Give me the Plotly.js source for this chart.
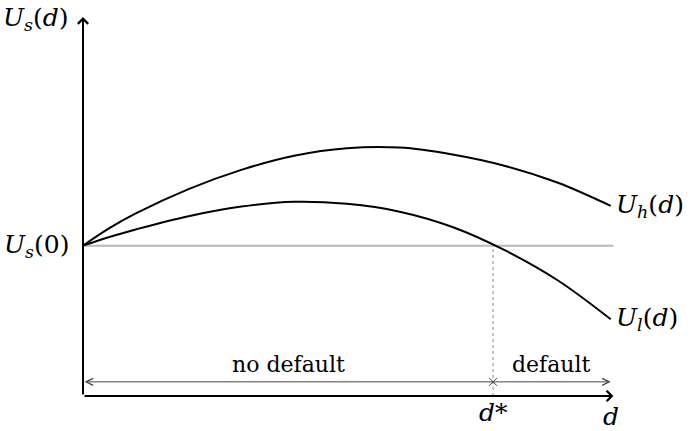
<!DOCTYPE html>
<html>
<head>
<meta charset="utf-8">
<script src="https://cdn.plot.ly/plotly-3.0.1.min.js"></script>
<style>
  html, body { margin: 0; padding: 0; background: #fff; }
  #chart { width: 691px; height: 431px; }
</style>
</head>
<body>
<div id="chart"></div>
<script>
// values (d from 0 to 10, U_s(0) = 5)
const d = [0, 0.5, 1, 2, 3, 4, 5, 6, 7, 8, 9, 10];
const uHigh = [5.0, 5.58, 6.07, 6.88, 7.52, 7.99, 8.24, 8.26, 8.03, 7.65, 7.09, 6.32];
const uLow = [5.0, 5.29, 5.54, 5.98, 6.30, 6.46, 6.39, 6.13, 5.62, 4.84, 3.84, 2.55];
const us0 = 5;
const dStar = 7.77;
const dMax = 10;
const bracketY = 0.47;

const serif = 'DejaVu Serif';
const black = '#000';

// === curves ===
const traces = [
  {
    x: d, y: uHigh, type: 'scatter', mode: 'lines',
    line: { color: black, width: 2, shape: 'spline', smoothing: 1 },
    hoverinfo: 'skip'
  },
  {
    x: d, y: uLow, type: 'scatter', mode: 'lines',
    line: { color: black, width: 2, shape: 'spline', smoothing: 1 },
    hoverinfo: 'skip'
  },
  // small cross where the two ranges meet
  {
    x: [dStar], y: [bracketY], type: 'scatter', mode: 'markers',
    marker: { symbol: 'x-thin', size: 8, line: { color: '#444', width: 1 } },
    hoverinfo: 'skip'
  }
];

function label(text, x, y, opts) {
  return Object.assign({
    text: text, x: x, y: y, xref: 'x', yref: 'y',
    showarrow: false,
    font: { family: serif, size: 25, color: black }
  }, opts);
}

function arrow(x0, y0, x1, y1, opts) {
  return Object.assign({
    text: '', x: x1, y: y1, ax: x0, ay: y0,
    xref: 'x', yref: 'y', axref: 'x', ayref: 'y',
    showarrow: true, arrowhead: 4, arrowsize: 1, arrowwidth: 2,
    arrowcolor: black, standoff: 0, startstandoff: 0
  }, opts);
}

const textFont = { family: serif, size: 22, color: black };

const annotations = [
  // axes
  arrow(0, 0, dMax + 0.05, 0),
  arrow(0, 0, 0, 12.6),
  // no default / default bracket
  arrow(0, bracketY, dMax, bracketY, {
    arrowside: 'end+start', arrowhead: 5, startarrowhead: 5,
    arrowwidth: 1, arrowsize: 1.4, startarrowsize: 1.4, arrowcolor: '#444'
  }),
  // labels
  label('<i>U<sub>s</sub></i>(<i>d</i>)', 0, 12.55, { xanchor: 'right', xshift: -12 }),
  label('<i>U<sub>s</sub></i>(0)', 0, us0, { xanchor: 'right', xshift: -12 }),
  label('<i>U<sub>h</sub></i>(<i>d</i>)', dMax, uHigh[uHigh.length - 1], { xanchor: 'left', xshift: 3 }),
  label('<i>U<sub>l</sub></i>(<i>d</i>)', dMax, uLow[uLow.length - 1], { xanchor: 'left', xshift: 3 }),
  label('<i>d</i>*', dStar, 0, { yanchor: 'top', yshift: 0 }),
  label('<i>d</i>', dMax, 0, { yanchor: 'top', yshift: -4 }),
  label('no default', dStar / 2, bracketY, { yanchor: 'bottom', yshift: 3, font: textFont }),
  label('default', (dStar + dMax) / 2, bracketY, { yanchor: 'bottom', yshift: 3, font: textFont })
];

const shapes = [
  // U_s(0) level
  { type: 'line', xref: 'x', yref: 'y', x0: 0, x1: dMax + 0.05, y0: us0, y1: us0,
    line: { color: '#b8b8b8', width: 2 }, layer: 'below' },
  // d* marker
  { type: 'line', xref: 'x', yref: 'y', x0: dStar, x1: dStar, y0: 0, y1: us0,
    line: { color: '#888', width: 1, dash: 'dot' }, layer: 'below' }
];

const hidden = { showgrid: false, zeroline: false, showticklabels: false, showline: false, ticks: '', fixedrange: true };

Plotly.newPlot('chart', traces, {
  width: 691, height: 431,
  margin: { l: 83, r: 66, t: 15, b: 35 },
  showlegend: false,
  xaxis: Object.assign({ range: [0, 10.27] }, hidden),
  yaxis: Object.assign({ range: [0, 12.67] }, hidden),
  shapes: shapes,
  annotations: annotations,
  plot_bgcolor: '#fff',
  paper_bgcolor: '#fff'
}, { displayModeBar: false, staticPlot: true });
</script>
</body>
</html>
